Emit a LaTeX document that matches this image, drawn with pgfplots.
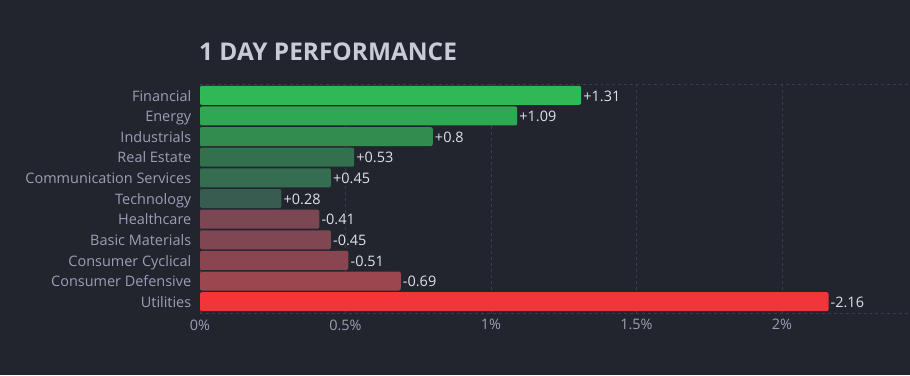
\documentclass[border=0pt]{standalone}
\usepackage{pgfplots}
\pgfplotsset{compat=1.18}
\usepackage{fontspec}
\setmainfont{Open Sans}
\definecolor{bg}{HTML}{22252E}
\definecolor{lab}{HTML}{9A9FB6}
\definecolor{val}{HTML}{E0E1E7}
\definecolor{ttl}{HTML}{C9CBD6}
\definecolor{grid}{HTML}{3A3E4A}
\definecolor{c0}{HTML}{30B856}
\definecolor{c1}{HTML}{2EA952}
\definecolor{c2}{HTML}{308C4F}
\definecolor{c3}{HTML}{33704E}
\definecolor{c4}{HTML}{346D4F}
\definecolor{c5}{HTML}{385C50}
\definecolor{c6}{HTML}{7A4753}
\definecolor{c7}{HTML}{804753}
\definecolor{c8}{HTML}{894651}
\definecolor{c9}{HTML}{9C464F}
\definecolor{c10}{HTML}{F23539}
\begin{document}
\begin{tikzpicture}[x=1bp,y=1bp]
\fill[bg] (0,0) rectangle (910,375);
\useasboundingbox (0,0) rectangle (910,375);
\node[anchor=base west, text=ttl, font=\fontsize{24.5}{28}\selectfont\bfseries, inner sep=0pt] at (199,315) {1 DAY PERFORMANCE};
\begin{axis}[
  at={(200bp,62bp)}, anchor=south west,
  scale only axis, width=710bp, height=229bp,
  xmin=0, xmax=2.44, ymin=-0.55, ymax=10.55, y dir=reverse,
  xbar, bar width=19bp, bar shift=0pt,
  axis line style={draw=none},
  tick style={draw=none},
  xtick={0,0.5,1,1.5,2},
  xticklabels={0\%,0.5\%,1\%,1.5\%,2\%},
  ytick={0,...,10},
  yticklabels={Financial,Energy,Industrials,Real Estate,Communication Services,Technology,Healthcare,Basic Materials,Consumer Cyclical,Consumer Defensive,Utilities},
  ticklabel style={text=lab, font=\fontsize{14.5}{16}\selectfont},
  yticklabel style={xshift=-1bp, text height=10.5bp, text depth=3.5bp, yshift=-2.2bp},
  xticklabel style={yshift=-3bp},
  xmajorgrids, grid style={draw=grid, dashed, line width=0.6pt},
  extra y ticks={-0.55,10.55}, extra y tick labels={},
  extra y tick style={ymajorgrids, xmajorgrids=false, grid style={draw=grid, dashed, line width=0.6pt}},
  clip=false,
  point meta=explicit symbolic,
  nodes near coords,
  nodes near coords style={text=val, font=\fontsize{14.5}{16}\selectfont, anchor=west, xshift=0bp, inner sep=2bp, text height=10.5bp, text depth=3.5bp, yshift=-2.2bp},
  every axis plot/.append style={draw=none, rounded corners=2bp},
]
\addplot[fill=c0] coordinates {(1.31,0) [+1.31]};
\addplot[fill=c1] coordinates {(1.09,1) [+1.09]};
\addplot[fill=c2] coordinates {(0.80,2) [+0.8]};
\addplot[fill=c3] coordinates {(0.53,3) [+0.53]};
\addplot[fill=c4] coordinates {(0.45,4) [+0.45]};
\addplot[fill=c5] coordinates {(0.28,5) [+0.28]};
\addplot[fill=c6] coordinates {(0.41,6) [-0.41]};
\addplot[fill=c7] coordinates {(0.45,7) [-0.45]};
\addplot[fill=c8] coordinates {(0.51,8) [-0.51]};
\addplot[fill=c9] coordinates {(0.69,9) [-0.69]};
\addplot[fill=c10] coordinates {(2.16,10) [-2.16]};
\end{axis}
\end{tikzpicture}
\end{document}
